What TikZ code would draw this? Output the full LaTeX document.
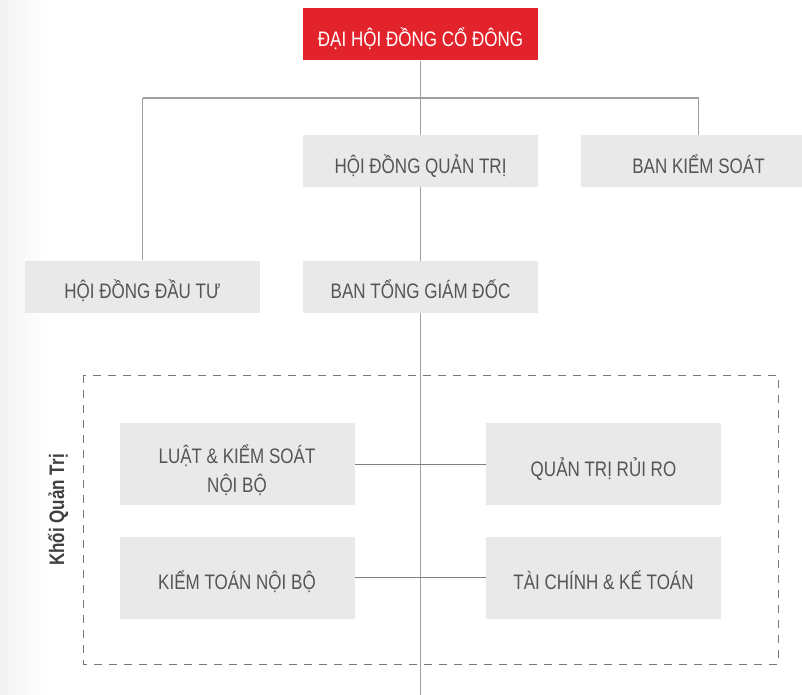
\documentclass[tikz,border=0pt]{standalone}
\usepackage{fontspec}
\setmainfont[FakeStretch=0.81]{Liberation Sans}
\usetikzlibrary{shadings}
\definecolor{redbox}{RGB}{227,35,43}
\definecolor{boxgray}{RGB}{233,233,233}
\definecolor{txtgray}{RGB}{85,85,85}
\definecolor{linegray}{RGB}{160,160,160}
\definecolor{dashgray}{RGB}{120,120,120}
\tikzset{
  orgbox/.style={fill=boxgray, draw=none, text=txtgray, minimum width=235pt, minimum height=52pt, inner sep=0pt, align=center, text height=26pt, text depth=2pt, font=\fontsize{21}{29}\selectfont},
  topbox/.style={orgbox, fill=redbox, text=white},
  tallbox/.style={orgbox, minimum height=82pt},
  twoline/.style={tallbox, text height=58pt},
  conn/.style={draw=linegray, line width=1.2pt},
  hconn/.style={draw=black!50, line width=1pt},
  groupframe/.style={draw=dashgray, line width=1pt, dash pattern=on 8pt off 7pt}
}
\begin{document}
\begin{tikzpicture}[x=1pt,y=-1pt]
\useasboundingbox (0,0) rectangle (802,695);
\clip (0,0) rectangle (802,695);
\shade[left color=black!5, right color=white] (0,0) rectangle (45,695);

% coordinates
\coordinate (jl) at (142.5,98);
\coordinate (jr) at (698.5,98);
\coordinate (bottom) at (420.5,695);

% group frame
\draw[groupframe] (83,375) rectangle (778,664);

% nodes
\node[topbox] (dhdcd) at (420.5,34.5) {ĐẠI HỘI ĐỒNG CỔ ĐÔNG};

% connectors (drawn before boxes so boxes cover them)
\draw[conn] (dhdcd.south) -- (bottom);
\draw[conn] (jl) -- (jr);

\node[orgbox] (hdqt) at (420.5,161) {HỘI ĐỒNG QUẢN TRỊ};
\node[orgbox] (bks) at (698.5,161) {BAN KIỂM SOÁT};
\node[orgbox] (hddt) at (142.5,286.5) {HỘI ĐỒNG ĐẦU TƯ};
\node[orgbox] (btgd) at (420.5,286.5) {BAN TỔNG GIÁM ĐỐC};

\draw[conn] (jl) -- (hddt.north);
\draw[conn] (jr) -- (bks.north);

\node[twoline] (luat) at (237,464) {LUẬT \& KIỂM SOÁT\\NỘI BỘ};
\node[tallbox] (qtrr) at (603.5,464) {QUẢN TRỊ RỦI RO};
\node[tallbox] (ktnb) at (237,577.5) {KIỂM TOÁN NỘI BỘ};
\node[tallbox] (tckt) at (603.5,577.5) {TÀI CHÍNH \& KẾ TOÁN};

\draw[hconn] (luat.east) -- (qtrr.west);
\draw[hconn] (ktnb.east) -- (tckt.west);

\node[rotate=90, text=black!75, font=\fontsize{21}{24}\selectfont\bfseries] (khoi) at (58,510) {Khối Quản Trị};
\end{tikzpicture}
\end{document}
